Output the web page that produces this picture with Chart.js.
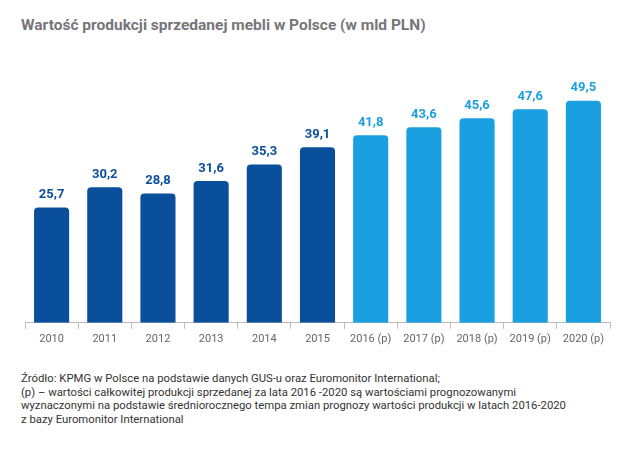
<!DOCTYPE html>
<html><head><meta charset="utf-8">
<script src="https://cdn.jsdelivr.net/npm/chart.js@4"></script>
<style>
body{margin:0;background:#fff;font-family:Roboto,"Liberation Sans",sans-serif;}
#wrap{position:relative;width:629px;height:461px;}
#title{position:absolute;left:21px;top:16px;font-size:15.5px;font-weight:bold;color:#76767a;}
#cv{position:absolute;left:0;top:0;}
#note{position:absolute;left:21px;top:372px;font-size:11.3px;line-height:13.5px;color:#333;}
</style></head><body>
<div id="wrap">
<div id="title">Wartość produkcji sprzedanej mebli w Polsce (w mld PLN)</div>
<canvas id="cv" width="629" height="350"></canvas>
<div id="note">Źródło: KPMG w Polsce na podstawie danych GUS-u oraz Euromonitor International;<br>(p) – wartości całkowitej produkcji sprzedanej za lata 2016 -2020 są wartościami prognozowanymi<br>wyznaczonymi na podstawie średniorocznego tempa zmian prognozy wartości produkcji w latach 2016-2020<br>z bazy Euromonitor International</div>
</div>
<script>
const years = ["2010","2011","2012","2013","2014","2015","2016 (p)","2017 (p)","2018 (p)","2019 (p)","2020 (p)"];
const values = [25.7, 30.2, 28.8, 31.6, 35.3, 39.1, 41.8, 43.6, 45.6, 47.6, 49.5];
const forecastFrom = 6;
const dark = "#0a4f9c", light = "#1a9fe0";
const colors = values.map((v, i) => i < forecastFrom ? dark : light);

const valueLabels = {
  id: "valueLabels",
  afterDatasetsDraw(chart) {
    const ctx = chart.ctx;
    const meta = chart.getDatasetMeta(0);
    ctx.save();
    ctx.font = "bold 13px Roboto, sans-serif";
    ctx.textAlign = "center";
    ctx.textBaseline = "bottom";
    meta.data.forEach((bar, i) => {
      ctx.fillStyle = colors[i];
      ctx.fillText(values[i].toFixed(1).replace(".", ","), bar.x, bar.y - 6);
    });
    ctx.restore();
  }
};

new Chart(document.getElementById("cv"), {
  type: "bar",
  data: { labels: years, datasets: [{ data: values, backgroundColor: colors, borderRadius: 4, borderSkipped: "bottom", barPercentage: 0.66, categoryPercentage: 1 }] },
  options: {
    responsive: false, animation: false,
    layout: { padding: { left: 25, right: 19, top: 76, bottom: 0 } },
    plugins: { legend: { display: false }, tooltip: { enabled: false } },
    scales: {
      y: { display: false, min: 0, max: 55 },
      x: {
        grid: { drawOnChartArea: false, color: "#bbb", tickLength: 6 },
        border: { color: "#bbb" },
        ticks: { color: "#666", font: { size: 11, family: "Roboto, sans-serif" }, padding: 4 }
      }
    }
  },
  plugins: [valueLabels]
});
</script>
</body></html>
